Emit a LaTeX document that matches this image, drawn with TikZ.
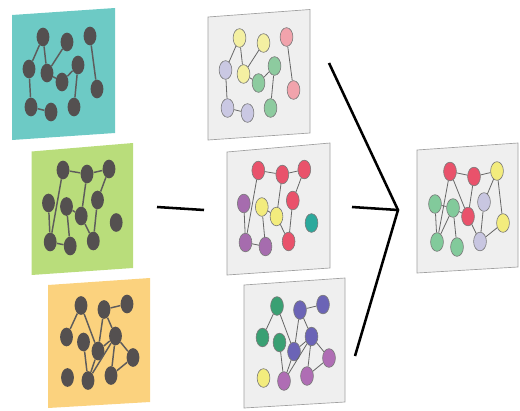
\documentclass[tikz,border=0pt]{standalone}
\usetikzlibrary{shapes.geometric}
\definecolor{darknode}{HTML}{545050}
\definecolor{darkedge}{HTML}{5E5C5C}
\definecolor{tealpanel}{HTML}{6DCAC5}
\definecolor{greenpanel}{HTML}{B9DD7B}
\definecolor{orangepanel}{HTML}{FBD27E}
\definecolor{graypanel}{HTML}{EFEFEF}
\definecolor{grayborder}{HTML}{A0A0A0}
\definecolor{grayedge}{HTML}{666666}
\definecolor{nodeborder}{HTML}{7A7A7A}
\definecolor{lyellow}{HTML}{F4F0A2}
\definecolor{lpink}{HTML}{F1A3AC}
\definecolor{llav}{HTML}{CAC8E3}
\definecolor{lgreen}{HTML}{8DCB9F}
\definecolor{cred}{HTML}{E9526B}
\definecolor{cpurple}{HTML}{A66CAE}
\definecolor{cyellow}{HTML}{F3EC7D}
\definecolor{cteal}{HTML}{2BA99C}
\definecolor{dgreen}{HTML}{3AA073}
\definecolor{cblue}{HTML}{6B64B6}
\definecolor{cmagenta}{HTML}{AF6DB4}
\definecolor{rgreen}{HTML}{82CA9B}
\definecolor{rlav}{HTML}{C8C6E1}

\newcommand\drawgraphA[1]{%
  \node[k1] (#1A) at (43,37) {};
  \node[k1] (#1B) at (67,42) {};
  \node[k2] (#1C) at (90,36) {};
  \node[k3] (#1D) at (29,69) {};
  \node[k1] (#1E) at (47,73) {};
  \node[k4] (#1F) at (62,82) {};
  \node[k4] (#1G) at (78,65) {};
  \node[k2] (#1H) at (97,89) {};
  \node[k3] (#1I) at (31,107) {};
  \node[k3] (#1J) at (51,112) {};
  \node[k4] (#1K) at (74,107) {};
  \draw[edge] (#1A) -- (#1D) (#1A) -- (#1E) (#1B) -- (#1E) (#1E) -- (#1F)
    (#1F) -- (#1G) (#1G) -- (#1K) (#1C) -- (#1H) (#1D) -- (#1I) (#1I) -- (#1J);
}
\newcommand\drawgraphB[1]{%
  \node[k1] (#1a) at (63,170) {};
  \node[k1] (#1b) at (87,174) {};
  \node[k1] (#1c) at (109,169) {};
  \node[k3] (#1d) at (48.5,203) {};
  \node[k2] (#1e) at (66.5,206.5) {};
  \node[k2] (#1f) at (81.2,216) {};
  \node[k1] (#1g) at (97.5,200) {};
  \node[k4] (#1h) at (116.2,222.5) {};
  \node[k3] (#1i) at (50.2,242) {};
  \node[k3] (#1j) at (70.2,246) {};
  \node[k1] (#1k) at (93.3,241) {};
  \draw[edge] (#1a) -- (#1i) (#1a) -- (#1b) (#1b) -- (#1c) (#1b) -- (#1f)
    (#1c) -- (#1g) (#1g) -- (#1k) (#1d) -- (#1i) (#1i) -- (#1j)
    (#1e) -- (#1j) (#1e) -- (#1f) (#1f) -- (#1k);
}
\newcommand\drawgraphC[1]{%
  \node[k1] (#1p) at (81,305.5) {};
  \node[k2] (#1q) at (104,309.5) {};
  \node[k2] (#1r) at (127,304) {};
  \node[k1] (#1s) at (66.5,337) {};
  \node[k1] (#1t) at (83.5,342) {};
  \node[k2] (#1u) at (98,351) {};
  \node[k2] (#1v) at (115.5,336) {};
  \node[k3] (#1w) at (133,357.5) {};
  \node[k4] (#1x) at (67.5,377.5) {};
  \node[k3] (#1y) at (88,380.5) {};
  \node[k3] (#1z) at (111,375.5) {};
  \draw[edge] (#1p) -- (#1s) (#1p) -- (#1u) (#1q) -- (#1r) (#1q) -- (#1u)
    (#1q) -- (#1v) (#1t) -- (#1y) (#1u) -- (#1y) (#1v) -- (#1y)
    (#1u) -- (#1v) (#1v) -- (#1z) (#1v) -- (#1w) (#1w) -- (#1z);
}

\begin{document}
\begin{tikzpicture}[x=0.75pt,y=-0.75pt,
  nd/.style={ellipse, inner sep=0pt, minimum width=9.6pt, minimum height=14pt},
  dn/.style={nd, fill=darknode},
  cn/.style={nd, draw=nodeborder, line width=0.45pt, fill=#1},
  de/.style={draw=darkedge, line width=1.1pt},
  ge/.style={draw=grayedge, line width=0.6pt},
  gpanel/.style={fill=graypanel, draw=grayborder, line width=0.5pt},
  link/.style={draw=black, line width=1.9pt}]
\useasboundingbox (0,0) rectangle (520,410);

% coloured panels
\fill[tealpanel] (12,15) -- (115,8) -- (115,133) -- (12,140) -- cycle;
\fill[greenpanel] (31.5,151.5) -- (133,143) -- (133,268) -- (31.5,275) -- cycle;
\fill[orangepanel] (48,285) -- (150,278) -- (150,402) -- (48,408) -- cycle;
% grey panels
\path[gpanel] (208,17) -- (310,9.5) -- (310,133) -- (208,140) -- cycle;
\path[gpanel] (227,152) -- (330,143) -- (330,268) -- (227,275) -- cycle;
\path[gpanel] (244,285) -- (345,278) -- (345,402) -- (244,408) -- cycle;
\path[gpanel] (417,150) -- (518,143) -- (518,267) -- (417,273) -- cycle;

% dark graphs
\begin{scope}[k1/.style={dn}, k2/.style={dn}, k3/.style={dn}, k4/.style={dn}, edge/.style={de}]
  \drawgraphA{pa}
  \drawgraphB{pb}
  \drawgraphC{pc}
\end{scope}

% coloured graphs
\begin{scope}[shift={(196.5,1)}, k1/.style={cn=lyellow}, k2/.style={cn=lpink}, k3/.style={cn=llav}, k4/.style={cn=lgreen}, edge/.style={ge}]
  \drawgraphA{ma}
\end{scope}
\begin{scope}[shift={(195.3,0.5)}, k1/.style={cn=cred}, k2/.style={cn=cyellow}, k3/.style={cn=cpurple}, k4/.style={cn=cteal}, edge/.style={ge}]
  \drawgraphB{mb}
\end{scope}
\begin{scope}[shift={(196,0.5)}, k1/.style={cn=dgreen}, k2/.style={cn=cblue}, k3/.style={cn=cmagenta}, k4/.style={cn=cyellow}, edge/.style={ge}]
  \drawgraphC{mc}
\end{scope}

% result graph
\begin{scope}[edge/.style={ge}]
  \node[cn=cred] (r1) at (450,171.5) {};
  \node[cn=cred] (r2) at (474,176.5) {};
  \node[cn=cyellow] (y1) at (497,171) {};
  \node[cn=rgreen] (g1) at (435,204) {};
  \node[cn=rgreen] (g2) at (453,208) {};
  \node[cn=cred] (r3) at (468,216.5) {};
  \node[cn=rlav] (l1) at (484,202) {};
  \node[cn=cyellow] (y2) at (503,223) {};
  \node[cn=rgreen] (g3) at (437,242) {};
  \node[cn=rgreen] (g4) at (457,247) {};
  \node[cn=rlav] (l2) at (480,241.5) {};
  \draw[edge] (r1) -- (r2) (r2) -- (y1) (r1) -- (r3) (r1) -- (g3) (r2) -- (r3)
    (y1) -- (l1) (y1) -- (y2) (l1) -- (l2) (l2) -- (y2) (r3) -- (l2)
    (g1) -- (g2) (g1) -- (g3) (g2) -- (g3) (g2) -- (g4) (g2) -- (r3);
\end{scope}

% connectors
\coordinate (la) at (157,207);
\coordinate (lb) at (204,210);
\coordinate (ta) at (329,63);
\coordinate (ma) at (352,207);
\coordinate (ba) at (355,356);
\coordinate (jn) at (398,210);
\draw[link] (la) -- (lb);
\draw[link, line join=miter] (ta) -- (jn) -- (ba);
\draw[link] (ma) -- (jn);
\end{tikzpicture}
\end{document}
